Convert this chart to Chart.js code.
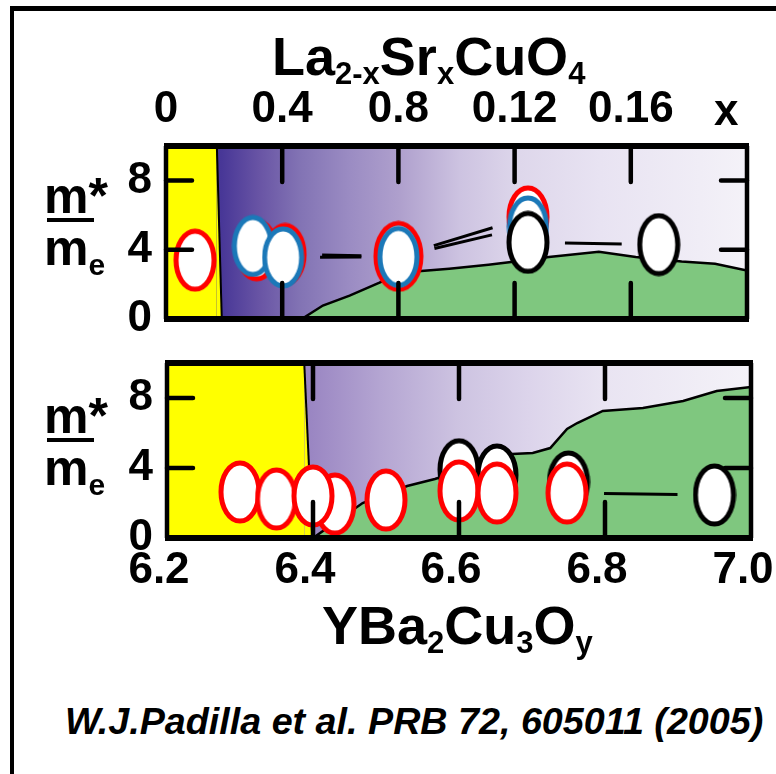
<!DOCTYPE html>
<html>
<head>
<meta charset="utf-8">
<title>Effective mass in LSCO and YBCO</title>
<script src="https://cdn.jsdelivr.net/npm/chart.js@4.4.1/dist/chart.umd.min.js"></script>
<style>
  html, body { margin: 0; padding: 0; background: #fff; }
  #page { position: relative; width: 776px; height: 774px; overflow: hidden;
          font-family: "Liberation Sans", Arial, Helvetica, sans-serif; font-weight: bold; color: #000; }
  #frame { position: absolute; left: 10px; top: 6px; width: 900px; height: 900px;
           border-left: 4px solid #000; border-top: 5px solid #000; }
  canvas { position: absolute; left: 0; }
  #lsco { top: 0; }
  #ybco { top: 340px; }
  .t { position: absolute; line-height: 1; white-space: nowrap; }
  .sub { font-size: 31px; vertical-align: -9px; }
  .mass { font-size: 50px; }
  .mass .e { font-size: 30px; vertical-align: -10px; }
  .bar { position: absolute; height: 4px; background: #000; }
  .cite { font-size: 37.7px; font-style: italic; }
</style>
</head>
<body>
<div id="page">
  <div id="frame"></div>
  <canvas id="lsco" width="776" height="340"></canvas>
  <canvas id="ybco" width="776" height="270"></canvas>

  <div class="t" style="left:272px; top:29px; font-size:54px;">La<span class="sub">2-x</span>Sr<span class="sub">x</span>CuO<span class="sub">4</span></div>
  <div class="t" style="left:714px; top:88px; font-size:44px;">x</div>

  <div class="t mass" style="left:44px; top:171px;">m*</div>
  <div class="bar" style="left:47px; top:218px; width:47px;"></div>
  <div class="t mass" style="left:44px; top:223px;">m<span class="e">e</span></div>

  <div class="t mass" style="left:44px; top:391px;">m*</div>
  <div class="bar" style="left:47px; top:438px; width:47px;"></div>
  <div class="t mass" style="left:44px; top:443px;">m<span class="e">e</span></div>

  <div class="t" style="left:322px; top:598px; font-size:54px;">YBa<span class="sub">2</span>Cu<span class="sub">3</span>O<span class="sub">y</span></div>

  <div class="t cite" style="left:65px; top:703px;">W.J.Padilla et al. PRB 72, 605011 (2005)</div>
</div>

<script>
'use strict';

// m*/me axis, shared by both panels
let massTicks = [0, 4, 8];

// La2-xSrxCuO4, Sr content x
let lscoTicks = [0, 0.04, 0.08, 0.12, 0.16];
let lscoTickLabels = ['0', '0.4', '0.8', '0.12', '0.16'];
let lscoRedX = [0.01, 0.0312, 0.041, 0.08, 0.1246];
let lscoRedY = [3.4, 4.0, 3.73, 3.62, 5.9];
let lscoBlueX = [0.0299, 0.0403, 0.08, 0.1246];
let lscoBlueY = [4.22, 3.56, 3.59, 5.35];
let lscoBlackX = [0.1246, 0.1696];
let lscoBlackY = [4.43, 4.3];
let lscoInsulX = [0, 0.0175, 0.0192];
let lscoInsulY = [10, 10, 0];
let lscoMetalX = [0.0467, 0.054, 0.0632, 0.0735, 0.0804, 0.0975, 0.111, 0.1188, 0.1318, 0.149, 0.1617, 0.1775, 0.189, 0.2];
let lscoMetalY = [0, 0.78, 1.35, 2.1, 2.67, 2.9, 3.13, 3.29, 3.59, 3.88, 3.59, 3.32, 3.19, 2.8];

// YBa2Cu3Oy, oxygen content y
let ybcoTicks = [6.2, 6.4, 6.6, 6.8, 7.0];
let ybcoTickLabels = ['6.2', '6.4', '6.6', '6.8', '7.0'];
let ybcoRedX = [6.30, 6.35, 6.43, 6.40, 6.50, 6.60, 6.652, 6.748];
let ybcoRedY = [2.63, 2.23, 1.94, 2.4, 2.17, 2.69, 2.57, 2.57];
let ybcoBlackX = [6.60, 6.652, 6.75, 6.95];
let ybcoBlackY = [3.9, 3.6, 3.2, 2.46];
// guide from the last red point out to y = 6.95
let ybcoGuideX = [6.748, 6.95];
let ybcoGuideY = [2.57, 2.46];
let ybcoInsulX = [6.2, 6.388, 6.399];
let ybcoInsulY = [10, 10, 0];
let ybcoMetalX = [6.4, 6.433, 6.468, 6.529, 6.567, 6.673, 6.701, 6.725, 6.748, 6.762, 6.797, 6.852, 6.907, 6.953, 7.0];
let ybcoMetalY = [0, 0.97, 2.0, 2.97, 3.37, 4.8, 4.86, 5.14, 6.23, 6.57, 7.26, 7.43, 7.83, 8.4, 8.63];

const RED = '#ff0000';
const BLUE = '#1b78b8';
const BLACK = '#000000';
const FONT = 'Liberation Sans, Arial, Helvetica, sans-serif';

function pts(xs, ys) {
    return xs.map((x, i) => ({ x: x, y: ys[i] }));
}

// white oval marker with coloured rim
function oval(color, w, h) {
    let c = document.createElement('canvas');
    c.width = w;
    c.height = h;
    let g = c.getContext('2d');
    let lw = 5;
    g.beginPath();
    g.ellipse(w / 2, h / 2, w / 2 - lw / 2 - 0.5, h / 2 - lw / 2 - 0.5, 0, 0, Math.PI * 2);
    g.fillStyle = '#fff';
    g.fill();
    g.lineWidth = lw;
    g.strokeStyle = color;
    g.stroke();
    return c;
}

let redMark = oval(RED, 44, 64);
let redBig = oval(RED, 51, 72);
let blueMark = oval(BLUE, 43, 63);
let blackMark = oval(BLACK, 44, 64);

// purple shading behind everything
const panelShade = {
    id: 'panelShade',
    beforeDatasetsDraw(chart, args, opts) {
        let ctx = chart.ctx;
        let a = chart.chartArea;
        let grad = ctx.createLinearGradient(a.left, 0, a.right, 0);
        opts.stops.forEach(s => grad.addColorStop(s[0], s[1]));
        ctx.save();
        ctx.fillStyle = grad;
        ctx.fillRect(a.left, a.top, a.right - a.left, a.bottom - a.top);
        ctx.restore();
    }
};

// connecting lines that stop short of the ovals
const gapLines = {
    id: 'gapLines',
    afterDatasetsDraw(chart) {
        let ctx = chart.ctx;
        chart.data.datasets.forEach((ds, i) => {
            if (!ds.gapLine) return;
            let el = chart.getDatasetMeta(i).data;
            let gap = ds.gapLine.gap;
            ctx.save();
            ctx.strokeStyle = '#000';
            ctx.lineWidth = ds.gapLine.width;
            for (let k = 1; k < el.length; k++) {
                let dx = el[k].x - el[k - 1].x;
                let dy = el[k].y - el[k - 1].y;
                let d = Math.hypot(dx, dy);
                if (d < 2 * gap + 4) continue;
                ctx.beginPath();
                ctx.moveTo(el[k - 1].x + dx / d * gap, el[k - 1].y + dy / d * gap);
                ctx.lineTo(el[k].x - dx / d * gap, el[k].y - dy / d * gap);
                ctx.stroke();
            }
            ctx.restore();
        });
    }
};

// heavy box with inward tick marks
const panelFrame = {
    id: 'panelFrame',
    afterDatasetsDraw(chart) {
        let ctx = chart.ctx;
        let a = chart.chartArea;
        let xs = chart.scales.x;
        let ys = chart.scales.y;
        ctx.save();
        ctx.strokeStyle = '#000';
        ctx.lineCap = 'round';
        ctx.lineWidth = 4.5;
        xs.ticks.forEach(t => {
            if (t.value <= xs.min || t.value >= xs.max) return;
            let px = xs.getPixelForValue(t.value);
            ctx.beginPath();
            ctx.moveTo(px, a.top); ctx.lineTo(px, a.top + 36);
            ctx.moveTo(px, a.bottom); ctx.lineTo(px, a.bottom - 36);
            ctx.stroke();
        });
        ys.ticks.forEach(t => {
            if (t.value <= ys.min || t.value >= ys.max) return;
            let py = ys.getPixelForValue(t.value);
            ctx.beginPath();
            ctx.moveTo(a.left, py); ctx.lineTo(a.left + 26, py);
            ctx.moveTo(a.right, py); ctx.lineTo(a.right - 26, py);
            ctx.stroke();
        });
        ctx.lineCap = 'butt';
        ctx.lineWidth = 6;
        ctx.beginPath();
        ctx.moveTo(a.left - 2, a.top); ctx.lineTo(a.right + 2, a.top);
        ctx.moveTo(a.left - 2, a.bottom); ctx.lineTo(a.right + 2, a.bottom);
        ctx.stroke();
        ctx.lineWidth = 4.5;
        ctx.beginPath();
        ctx.moveTo(a.left, a.top); ctx.lineTo(a.left, a.bottom);
        ctx.moveTo(a.right, a.top); ctx.lineTo(a.right, a.bottom);
        ctx.stroke();
        ctx.restore();
    }
};

function fixSize(size) {
    return function (scale) {
        if (scale.isHorizontal()) {
            scale.height = size;
        } else {
            scale.width = size;
        }
        scale.paddingLeft = 0;
        scale.paddingRight = 0;
        scale.paddingTop = 0;
        scale.paddingBottom = 0;
    };
}

function makePanel(id, p) {
    let ctx = document.getElementById(id).getContext('2d');
    return new Chart(ctx, {
        type: 'line',
        data: {
            datasets: [
                {
                    data: pts(p.insulX, p.insulY),
                    fill: 'origin',
                    backgroundColor: '#ffff00',
                    borderWidth: 2,
                    segment: { borderColor: c => c.p0DataIndex === 0 ? 'rgba(0,0,0,0)' : '#000' },
                    pointRadius: 0,
                    order: 6
                },
                {
                    data: pts(p.metalX, p.metalY),
                    fill: 'origin',
                    backgroundColor: '#7fc77f',
                    borderColor: '#000',
                    borderWidth: 2.5,
                    pointRadius: 0,
                    order: 5
                }
            ].concat(p.marks.map((m, i) => ({
                // lower order is painted last, so the first series sits on top
                data: pts(m.x, m.y),
                showLine: false,
                pointStyle: m.style || false,
                pointRadius: m.style ? 20 : 0,
                gapLine: m.line ? { gap: 37, width: 3 } : null,
                order: i + 1
            })))
        },
        options: {
            responsive: false,
            animation: false,
            events: [],
            layout: { padding: p.padding },
            plugins: {
                legend: { display: false },
                tooltip: { enabled: false },
                panelShade: { stops: p.shade }
            },
            scales: {
                x: {
                    type: 'linear',
                    position: p.xPos,
                    min: p.xMin,
                    max: p.xMax,
                    grid: { display: false, drawTicks: false },
                    border: { display: false },
                    afterBuildTicks: s => { s.ticks = p.ticks.map(v => ({ value: v })); },
                    afterFit: fixSize(p.xSize),
                    ticks: {
                        autoSkip: false,
                        maxRotation: 0,
                        padding: p.xPad,
                        labelOffset: p.xOffset,
                        color: '#000',
                        font: { family: FONT, size: 44, weight: 'bold' },
                        callback: (v, i) => p.tickLabels[i]
                    }
                },
                y: {
                    type: 'linear',
                    position: 'left',
                    min: 0,
                    max: 10,
                    grid: { display: false, drawTicks: false },
                    border: { display: false },
                    afterBuildTicks: s => { s.ticks = massTicks.map(v => ({ value: v })); },
                    afterFit: fixSize(p.ySize),
                    ticks: {
                        padding: 14,
                        color: '#000',
                        font: { family: FONT, size: 44, weight: 'bold' },
                        callback: v => String(v)
                    }
                }
            }
        },
        plugins: [panelShade, gapLines, panelFrame]
    });
}

makePanel('lsco', {
    insulX: lscoInsulX, insulY: lscoInsulY,
    metalX: lscoMetalX, metalY: lscoMetalY,
    marks: [
        { x: lscoBlackX, y: lscoBlackY, style: blackMark, line: true },
        { x: lscoBlueX, y: lscoBlueY, style: blueMark, line: true },
        { x: lscoRedX, y: lscoRedY, style: [redMark, redMark, redMark, redBig, redMark], line: true }
    ],
    ticks: lscoTicks, tickLabels: lscoTickLabels,
    xMin: 0, xMax: 0.2, xPos: 'top', xSize: 146, xPad: 10, xOffset: 0, ySize: 166,
    padding: { left: 0, right: 29, top: 0, bottom: 19 },
    shade: [[0, '#3a2a8a'], [0.096, '#483797'], [0.162, '#6955a5'], [0.23, '#8273b4'],
            [0.317, '#9b8cc3'], [0.403, '#afa0cd'], [0.506, '#cdc3e1'], [0.609, '#ded7eb'],
            [0.747, '#e8e3f2'], [0.919, '#f0edf6'], [1, '#f4f2f8']]
});

makePanel('ybco', {
    insulX: ybcoInsulX, insulY: ybcoInsulY,
    metalX: ybcoMetalX, metalY: ybcoMetalY,
    marks: [
        { x: ybcoRedX, y: ybcoRedY, style: redMark, line: false },
        { x: ybcoBlackX, y: ybcoBlackY, style: blackMark, line: false },
        { x: ybcoGuideX, y: ybcoGuideY, style: null, line: true }
    ],
    ticks: ybcoTicks, tickLabels: ybcoTickLabels,
    xMin: 6.2, xMax: 7.0, xPos: 'bottom', xSize: 72, xPad: 6, xOffset: -8, ySize: 167,
    padding: { left: 0, right: 25, top: 23, bottom: 0 },
    shade: [[0, '#6a58a8'], [0.25, '#9b87c3'], [0.365, '#b4a5d2'], [0.498, '#cdc3e1'],
            [0.62, '#dcd4eb'], [0.748, '#e9e4f2'], [1, '#f4f2f8']]
});
</script>
</body>
</html>
